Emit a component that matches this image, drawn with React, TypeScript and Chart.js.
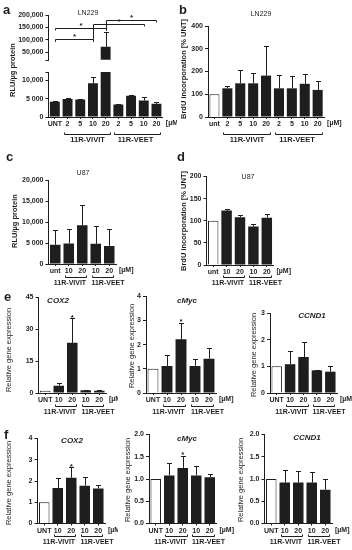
import React, { useEffect, useRef } from "react";
import { Chart, registerables } from "chart.js";
Chart.register(...registerables);

const FONT = "'Liberation Sans', Arial, Helvetica, sans-serif";
const INK = "#1e1e1e";

// ---------- Panel a (LN229, luciferase) ----------
const aLabels = ["UNT", "2", "5", "10", "20", "2", "5", "10", "20"];
const aValues = [4200, 4900, 4800, 9200, 72000, 3400, 5800, 4500, 3600];
const aErrTop = [4400, 5100, 4900, 11000, 130000, 3600, 5900, 5600, 4100];
const aLowTicks = [0, 5000, 10000];
const aLowTickLabels = ["0", "5 000", "10,000"];
const aHighTicks = [50000, 100000, 150000, 200000];
const aHighTickLabels = ["50,000", "100,000", "150,000", "200,000"];

// ---------- Panel b (LN229, BrdU) ----------
const bLabels = ["unt", "2", "5", "10", "20", "2", "5", "10", "20"];
const bValues = [100, 126, 148, 148, 182, 126, 126, 146, 119];
const bErrTop = [100, 138, 206, 193, 312, 184, 181, 187, 158];
const bTicks = [0, 100, 200, 300, 400];

// ---------- Panel c (U87, luciferase) ----------
const cLabels = ["unt", "10", "20", "10", "20"];
const cValues = [4600, 4900, 9200, 4800, 4300];
const cErrTop = [8100, 8300, 14000, 9100, 8400];
const cTicks = [0, 5000, 10000, 15000, 20000];
const cTickLabels = ["0", "5 000", "10,000", "15,000", "20,000"];

// ---------- Panel d (U87, BrdU) ----------
const dLabels = ["unt", "10", "20", "10", "20"];
const dValues = [100, 123, 108, 87, 107];
const dErrTop = [100, 126, 113, 92, 116];
const dTicks = [0, 50, 100, 150, 200];

// ---------- Panels e / f (gene expression) ----------
const geneLabels = ["UNT", "10", "20", "10", "20"];
const eCox2Values = [1, 3.4, 23.5, 1.3, 1.1];
const eCox2Err = [1, 4.7, 35, 1.6, 1.4];
const eCox2Ticks = [0, 15, 30, 45];
const eMycValues = [1, 1.12, 2.22, 1.12, 1.42];
const eMycErr = [1, 1.55, 2.9, 1.42, 1.85];
const eMycTicks = [0, 1, 2, 3, 4];
const eCcnd1Values = [1, 1.08, 1.35, 0.85, 0.8];
const eCcnd1Err = [1, 1.56, 1.92, 0.87, 1.0];
const eCcnd1Ticks = [0, 1, 2, 3];

const fCox2Values = [1, 1.67, 2.15, 1.78, 1.65];
const fCox2Err = [1, 2.15, 2.65, 2.2, 1.82];
const fCox2Ticks = [0, 1, 2, 3, 4];
const fMycValues = [1, 1.08, 1.25, 1.08, 1.04];
const fMycErr = [1, 1.37, 1.52, 1.29, 1.11];
const fCcnd1Values = [1, 0.92, 0.92, 0.92, 0.76];
const fCcnd1Err = [1, 1.2, 1.18, 1.16, 1.0];
const fHalfTicks = [0, 0.5, 1, 1.5, 2];
const fHalfTickLabels = ["0.0", "0.5", "1.0", "1.5", "2.0"];

const groupNames = ["11R-VIVIT", "11R-VEET"];
const unitLabel = "[µM]";

type Group = { from: number; to: number; text: string; dx: number };
type Bracket = { from: number; to: number; y: number; dropL: number; dropR: number };
type TextSpec = { text: string; x: number; y: number; font: string };

type Spec = {
  id: string;
  box: [number, number, number, number];
  axisX: number;
  plotRight: number;
  yTop: number;
  yBottom: number;
  min: number;
  max: number;
  ticks: number[];
  tickLabels?: string[];
  labels: string[];
  values: number[];
  errTop: number[];
  openFirst: boolean;
  showX: boolean;
  title?: TextSpec;
  yTitle?: TextSpec;
  unit?: boolean;
  groups?: Group[];
  groupY?: number;
  groupFont?: string;
  stars?: number[];
  brackets?: Bracket[];
  breakMark?: "top" | "bottom";
  barPct?: number;
};

const TICK_FONT = { family: FONT, size: 7, weight: "bold" as const };
const X_TICK_LEN = 2;
const X_TICK_PAD = 1;

const decorPlugin = {
  id: "decor",
  afterDatasetsDraw(chart: any, _args: any, o: any) {
    const s: Spec = o.spec;
    if (!s) return;
    const ctx: CanvasRenderingContext2D = chart.ctx;
    const area = chart.chartArea;
    const xs = chart.scales.x;
    const ys = chart.scales.y;
    const bl = s.box[0];
    const bt = s.box[1];
    const px = (v: number) => Math.round(v) + 0.5;
    ctx.save();
    ctx.strokeStyle = INK;
    ctx.fillStyle = INK;
    ctx.lineWidth = 1;

    // error bars (upper only)
    ctx.save();
    ctx.beginPath();
    ctx.rect(area.left, area.top - 1, area.right - area.left, area.bottom - area.top + 1);
    ctx.clip();
    s.values.forEach((v, i) => {
      const e = s.errTop[i];
      if (e <= v) return;
      const x = px(xs.getPixelForValue(i));
      const y0 = ys.getPixelForValue(v);
      const y1 = px(ys.getPixelForValue(e));
      ctx.beginPath();
      ctx.moveTo(x, y0);
      ctx.lineTo(x, y1);
      ctx.moveTo(x - 2.5, y1);
      ctx.lineTo(x + 2.5, y1);
      ctx.stroke();
    });
    ctx.restore();

    // stars above error bars
    ctx.font = `bold 8px ${FONT}`;
    ctx.textAlign = "center";
    ctx.textBaseline = "alphabetic";
    (s.stars || []).forEach((i) => {
      const x = xs.getPixelForValue(i);
      const y1 = ys.getPixelForValue(s.errTop[i]);
      ctx.fillText("*", x, y1 + 1.5);
    });

    // significance brackets
    (s.brackets || []).forEach((b) => {
      const x1 = px(xs.getPixelForValue(b.from));
      const x2 = px(xs.getPixelForValue(b.to));
      const y = px(ys.getPixelForValue(b.y));
      ctx.beginPath();
      ctx.moveTo(x1, ys.getPixelForValue(b.dropL));
      ctx.lineTo(x1, y);
      ctx.lineTo(x2, y);
      ctx.lineTo(x2, ys.getPixelForValue(b.dropR));
      ctx.stroke();
      ctx.fillText("*", (x1 + x2) / 2, y - 1);
    });

    // axis break marks
    if (s.breakMark) {
      const y = px(s.breakMark === "top" ? area.top : area.bottom);
      ctx.beginPath();
      ctx.moveTo(area.left - 3, y);
      ctx.lineTo(area.left + 0.5, y);
      ctx.stroke();
    }

    // unit label
    if (s.unit) {
      ctx.font = `bold 7px ${FONT}`;
      ctx.textAlign = "left";
      ctx.textBaseline = "top";
      ctx.fillText(unitLabel, area.right + 3, area.bottom + X_TICK_LEN + X_TICK_PAD);
    }

    // group brackets under the x axis
    if (s.groups && s.groupY !== undefined) {
      const gy = px(s.groupY - bt);
      ctx.font = s.groupFont || `bold 7.5px ${FONT}`;
      ctx.textAlign = "center";
      ctx.textBaseline = "middle";
      s.groups.forEach((g) => {
        const x1 = px(xs.getPixelForValue(g.from) - 4);
        const x2 = px(xs.getPixelForValue(g.to) + 4);
        ctx.beginPath();
        ctx.moveTo(x1, gy - 2);
        ctx.lineTo(x1, gy);
        ctx.lineTo(x2, gy);
        ctx.lineTo(x2, gy - 2);
        ctx.stroke();
        ctx.fillText(g.text, (x1 + x2) / 2 + g.dx, gy + 5.5);
      });
    }

    // title
    if (s.title) {
      ctx.font = s.title.font;
      ctx.textAlign = "center";
      ctx.textBaseline = "middle";
      ctx.fillText(s.title.text, s.title.x - bl, s.title.y - bt);
    }

    // rotated y title
    if (s.yTitle) {
      ctx.save();
      ctx.font = s.yTitle.font;
      ctx.textAlign = "center";
      ctx.textBaseline = "middle";
      ctx.translate(s.yTitle.x - bl, s.yTitle.y - bt);
      ctx.rotate(-Math.PI / 2);
      ctx.fillText(s.yTitle.text, 0, 0);
      ctx.restore();
    }
    ctx.restore();
  },
};

function makeConfig(s: Spec): any {
  const [left, top, w, h] = s.box;
  const yAxisW = s.axisX - left;
  const xAxisH = top + h - s.yBottom;
  const labelFor = (v: number) => {
    const k = s.ticks.indexOf(v);
    if (k < 0) return "";
    return s.tickLabels ? s.tickLabels[k] : String(v);
  };
  return {
    type: "bar",
    data: {
      labels: s.labels,
      datasets: [
        {
          data: s.values,
          backgroundColor: s.values.map((_, i) => (i === 0 && s.openFirst ? "#ffffff" : INK)),
          borderColor: INK,
          borderWidth: s.values.map((_, i) => (i === 0 && s.openFirst ? 1 : 0)),
          borderSkipped: "start",
          barPercentage: s.barPct ?? 0.78,
          categoryPercentage: 1,
          clip: 0,
        },
      ],
    },
    options: {
      animation: false,
      responsive: false,
      maintainAspectRatio: false,
      events: [],
      layout: {
        padding: {
          top: s.yTop - top,
          right: left + w - s.plotRight,
          left: 0,
          bottom: s.showX ? 0 : top + h - s.yBottom,
        },
      },
      plugins: {
        legend: { display: false },
        tooltip: { enabled: false },
        title: { display: false },
        decor: { spec: s },
      },
      scales: {
        x: {
          display: s.showX,
          offset: true,
          grid: {
            display: true,
            drawOnChartArea: false,
            drawTicks: true,
            tickLength: X_TICK_LEN,
            offset: false,
            color: INK,
          },
          border: { display: true, color: INK, width: 1 },
          ticks: {
            autoSkip: false,
            maxRotation: 0,
            minRotation: 0,
            padding: X_TICK_PAD,
            color: INK,
            font: TICK_FONT,
          },
          afterFit: (sc: any) => {
            sc.height = xAxisH;
          },
        },
        y: {
          min: s.min,
          max: s.max,
          grid: {
            display: true,
            drawOnChartArea: false,
            drawTicks: true,
            tickLength: 3,
            color: INK,
          },
          border: { display: true, color: INK, width: 1 },
          ticks: {
            padding: 2,
            color: INK,
            font: TICK_FONT,
            autoSkip: false,
            callback: (v: any) => labelFor(Number(v)),
          },
          afterBuildTicks: (sc: any) => {
            sc.ticks = s.ticks.map((v) => ({ value: v }));
          },
          afterFit: (sc: any) => {
            sc.width = yAxisW;
          },
        },
      },
    },
    plugins: [decorPlugin],
  };
}

const smallTitle = `7px ${FONT}`;
const geneTitle = `italic bold 8px ${FONT}`;
const yTitleBold = `bold 7.5px ${FONT}`;
const yTitleReg = `7.5px ${FONT}`;
const narrowGroupFont = `bold 7px ${FONT}`;

const wideGroups: Group[] = [
  { from: 1, to: 4, text: groupNames[0], dx: 0 },
  { from: 5, to: 8, text: groupNames[1], dx: -2 },
];
const narrowGroups: Group[] = [
  { from: 1, to: 2, text: groupNames[0], dx: -6 },
  { from: 3, to: 4, text: groupNames[1], dx: 5 },
];

const specs: Spec[] = [
  {
    id: "a-low",
    box: [0, 5, 177, 141],
    axisX: 48.5,
    plotRight: 162.8,
    yTop: 72,
    yBottom: 117,
    min: 0,
    max: 12300,
    ticks: aLowTicks,
    tickLabels: aLowTickLabels,
    labels: aLabels,
    values: aValues,
    errTop: aErrTop,
    openFirst: false,
    showX: true,
    unit: true,
    groups: wideGroups,
    groupY: 133.5,
    breakMark: "top",
    yTitle: { text: "RLU/µg protein", x: 13, y: 70, font: yTitleBold },
  },
  {
    id: "a-high",
    box: [0, 5, 176, 61],
    axisX: 48.5,
    plotRight: 162.8,
    yTop: 15,
    yBottom: 64.2,
    min: 20000,
    max: 200000,
    ticks: aHighTicks,
    tickLabels: aHighTickLabels,
    labels: aLabels,
    values: aValues,
    errTop: aErrTop,
    openFirst: false,
    showX: false,
    breakMark: "bottom",
    title: { text: "LN229", x: 88, y: 13, font: smallTitle },
    brackets: [
      { from: 0, to: 3, y: 102000, dropL: 92000, dropR: 92000 },
      { from: 0, to: 4, y: 148000, dropL: 138000, dropR: 138000 },
      { from: 3, to: 7, y: 163500, dropL: 102000, dropR: 154000 },
      { from: 4, to: 8, y: 179000, dropL: 136000, dropR: 170000 },
    ],
  },
  {
    id: "b",
    box: [176, 5, 176, 141],
    axisX: 208,
    plotRight: 324.1,
    yTop: 26,
    yBottom: 117,
    min: 0,
    max: 400,
    ticks: bTicks,
    labels: bLabels,
    values: bValues,
    errTop: bErrTop,
    openFirst: true,
    showX: true,
    unit: true,
    groups: wideGroups,
    groupY: 133.5,
    title: { text: "LN229", x: 261, y: 14, font: smallTitle },
    yTitle: { text: "BrdU incorporation [% UNT]", x: 184, y: 69, font: yTitleBold },
  },
  {
    id: "c",
    box: [0, 150, 176, 140],
    axisX: 48.5,
    plotRight: 116,
    yTop: 180,
    yBottom: 264,
    min: 0,
    max: 20000,
    ticks: cTicks,
    tickLabels: cTickLabels,
    labels: cLabels,
    values: cValues,
    errTop: cErrTop,
    openFirst: false,
    showX: true,
    unit: true,
    groups: narrowGroups,
    groupFont: narrowGroupFont,
    groupY: 276.5,
    title: { text: "U87", x: 83, y: 173, font: smallTitle },
    yTitle: { text: "RLU/µg protein", x: 15, y: 221, font: yTitleBold },
  },
  {
    id: "d",
    box: [176, 150, 176, 140],
    axisX: 206.5,
    plotRight: 273.5,
    yTop: 176.5,
    yBottom: 265,
    min: 0,
    max: 200,
    ticks: dTicks,
    labels: dLabels,
    values: dValues,
    errTop: dErrTop,
    openFirst: true,
    showX: true,
    unit: true,
    groups: narrowGroups,
    groupFont: narrowGroupFont,
    groupY: 276.5,
    title: { text: "U87", x: 248, y: 177, font: smallTitle },
    yTitle: { text: "BrdU incorporation [% UNT]", x: 184, y: 221, font: yTitleBold },
  },
  {
    id: "e-cox2",
    box: [0, 290, 118, 125],
    axisX: 38.5,
    plotRight: 106,
    yTop: 297,
    yBottom: 393,
    min: 0,
    max: 45,
    ticks: eCox2Ticks,
    labels: geneLabels,
    values: eCox2Values,
    errTop: eCox2Err,
    openFirst: true,
    showX: true,
    unit: true,
    groups: narrowGroups,
    groupFont: narrowGroupFont,
    groupY: 405.5,
    stars: [2],
    title: { text: "COX2", x: 58, y: 301, font: geneTitle },
    yTitle: { text: "Relative gene expression", x: 9, y: 350, font: yTitleReg },
  },
  {
    id: "e-myc",
    box: [118, 290, 117, 125],
    axisX: 146,
    plotRight: 216,
    yTop: 296,
    yBottom: 393,
    min: 0,
    max: 4,
    ticks: eMycTicks,
    labels: geneLabels,
    values: eMycValues,
    errTop: eMycErr,
    openFirst: true,
    showX: true,
    unit: true,
    groups: narrowGroups,
    groupFont: narrowGroupFont,
    groupY: 405.5,
    stars: [2],
    title: { text: "cMyc", x: 187, y: 301, font: geneTitle },
    yTitle: { text: "Relative gene expression", x: 132, y: 346, font: yTitleReg },
  },
  {
    id: "e-ccnd1",
    box: [235, 290, 117, 125],
    axisX: 270,
    plotRight: 337,
    yTop: 313,
    yBottom: 393,
    min: 0,
    max: 3,
    ticks: eCcnd1Ticks,
    labels: geneLabels,
    values: eCcnd1Values,
    errTop: eCcnd1Err,
    openFirst: true,
    showX: true,
    unit: true,
    groups: narrowGroups,
    groupFont: narrowGroupFont,
    groupY: 405.5,
    title: { text: "CCND1", x: 312, y: 316, font: geneTitle },
    yTitle: { text: "Relative gene expression", x: 254, y: 355, font: yTitleReg },
  },
  {
    id: "f-cox2",
    box: [0, 428, 118, 122],
    axisX: 37.5,
    plotRight: 105,
    yTop: 438.5,
    yBottom: 523.5,
    min: 0,
    max: 4,
    ticks: fCox2Ticks,
    labels: geneLabels,
    values: fCox2Values,
    errTop: fCox2Err,
    openFirst: true,
    showX: true,
    unit: true,
    groups: narrowGroups,
    groupFont: narrowGroupFont,
    groupY: 535.5,
    stars: [2],
    title: { text: "COX2", x: 72, y: 441, font: geneTitle },
    yTitle: { text: "Relative gene expression", x: 9, y: 483, font: yTitleReg },
  },
  {
    id: "f-myc",
    box: [118, 428, 117, 122],
    axisX: 149,
    plotRight: 216.5,
    yTop: 434.5,
    yBottom: 523.5,
    min: 0,
    max: 2,
    ticks: fHalfTicks,
    tickLabels: fHalfTickLabels,
    labels: geneLabels,
    values: fMycValues,
    errTop: fMycErr,
    openFirst: true,
    showX: true,
    unit: true,
    groups: narrowGroups,
    groupFont: narrowGroupFont,
    groupY: 535.5,
    stars: [2],
    title: { text: "cMyc", x: 187, y: 439, font: geneTitle },
    yTitle: { text: "Relative gene expression", x: 128, y: 480, font: yTitleReg },
  },
  {
    id: "f-ccnd1",
    box: [235, 428, 117, 122],
    axisX: 264.5,
    plotRight: 332,
    yTop: 434.5,
    yBottom: 523.5,
    min: 0,
    max: 2,
    ticks: fHalfTicks,
    tickLabels: fHalfTickLabels,
    labels: geneLabels,
    values: fCcnd1Values,
    errTop: fCcnd1Err,
    openFirst: true,
    showX: true,
    unit: true,
    groups: narrowGroups,
    groupFont: narrowGroupFont,
    groupY: 535.5,
    title: { text: "CCND1", x: 307, y: 438, font: geneTitle },
    yTitle: { text: "Relative gene expression", x: 241, y: 480, font: yTitleReg },
  },
];

const panelLetters: { t: string; x: number; y: number }[] = [
  { t: "a", x: 3, y: 3 },
  { t: "b", x: 179, y: 3 },
  { t: "c", x: 6, y: 150 },
  { t: "d", x: 177, y: 150 },
  { t: "e", x: 4, y: 290 },
  { t: "f", x: 4, y: 428 },
];

function Panel({ spec }: { spec: Spec }) {
  const ref = useRef<HTMLCanvasElement>(null);
  useEffect(() => {
    if (!ref.current) return;
    const chart = new Chart(ref.current, makeConfig(spec));
    return () => chart.destroy();
  }, [spec]);
  const [l, t, w, h] = spec.box;
  return (
    <canvas
      ref={ref}
      width={w}
      height={h}
      style={{ position: "absolute", left: l, top: t, width: w, height: h }}
    />
  );
}

export default function App() {
  return (
    <div
      style={{
        position: "fixed",
        left: 0,
        top: 0,
        width: 352,
        height: 550,
        background: "#ffffff",
        overflow: "hidden",
        fontFamily: FONT,
      }}
    >
      {specs.map((s) => (
        <Panel key={s.id} spec={s} />
      ))}
      {panelLetters.map((p) => (
        <div
          key={p.t}
          style={{
            position: "absolute",
            left: p.x,
            top: p.y,
            font: `bold 13px ${FONT}`,
            lineHeight: "14px",
            color: INK,
          }}
        >
          {p.t}
        </div>
      ))}
    </div>
  );
}
